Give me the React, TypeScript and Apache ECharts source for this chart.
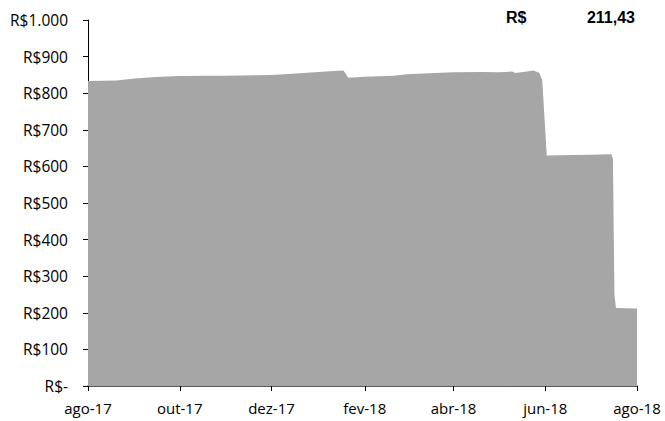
import React, { useEffect, useRef } from "react";
import * as echarts from "echarts";

const dates: string[] = [
  "2017-08-01", "2017-08-20", "2017-09-01", "2017-09-15", "2017-10-01", "2017-10-20",
  "2017-11-01", "2017-11-20", "2017-12-01", "2017-12-15", "2018-01-01", "2018-01-17",
  "2018-01-18", "2018-01-21", "2018-02-01", "2018-02-20", "2018-03-01", "2018-03-20",
  "2018-04-01", "2018-04-20", "2018-05-01", "2018-05-10", "2018-05-12", "2018-05-20",
  "2018-05-24", "2018-05-28", "2018-05-30", "2018-06-02", "2018-06-20", "2018-07-01",
  "2018-07-15", "2018-07-16", "2018-07-17", "2018-07-18", "2018-08-01",
];
const values: number[] = [
  833, 835, 840, 844, 847, 848,
  848, 849, 850, 853, 858, 862,
  861, 842, 845, 848, 852, 855,
  857, 858, 857, 859, 855, 859,
  862, 856, 836, 630, 631, 632,
  633, 620, 250, 213, 211.43,
];
const tickDates: string[] = ["2017-08-01", "2017-10-01", "2017-12-01", "2018-02-01", "2018-04-01", "2018-06-01", "2018-08-01"];
const monthNames: string[] = ["jan", "fev", "mar", "abr", "mai", "jun", "jul", "ago", "set", "out", "nov", "dez"];
const lastValueLabel = "211,43";

const ts = (d: string) => {
  const [y, m, dd] = d.split("-").map(Number);
  return Date.UTC(y, m - 1, dd);
};

export default function App() {
  const ref = useRef<HTMLDivElement>(null);
  useEffect(() => {
    if (!ref.current) return;
    const chart = echarts.init(ref.current, null, { renderer: "svg" });
    const tickTs = tickDates.map(ts);
    const font = "'Open Sans', 'Liberation Sans', sans-serif";
    chart.setOption({
      animation: false,
      grid: { left: 88, right: 28, top: 20, bottom: 35 },
      xAxis: {
        type: "value",
        min: ts("2017-08-01"),
        max: ts("2018-08-01"),
        splitLine: { show: false },
        axisLine: { show: true, lineStyle: { color: "#222", width: 1.5 } },
        axisTick: { show: true, customValues: tickTs, length: 5, inside: false, lineStyle: { color: "#000" } },
        axisLabel: {
          customValues: tickTs,
          color: "#000",
          fontSize: 15,
          fontFamily: font,
          margin: 14,
          formatter: (v: number) => {
            const d = new Date(v);
            return monthNames[d.getUTCMonth()] + "-" + String(d.getUTCFullYear()).slice(2);
          },
        },
      },
      yAxis: {
        type: "value",
        min: 0,
        max: 1000,
        interval: 100,
        splitLine: { show: false },
        axisLine: { show: true, lineStyle: { color: "#000", width: 1 } },
        axisTick: { show: true, length: 5, lineStyle: { color: "#000" } },
        axisLabel: {
          color: "#000",
          fontSize: 15.5,
          fontFamily: font,
          margin: 20,
          formatter: (v: number) => (v === 0 ? "R$-" : "R$" + (v >= 1000 ? "1.000" : String(v))),
        },
      },
      graphic: [
        { type: "text", left: 506, top: 9, style: { text: "R$", font: "bold 16px 'Liberation Sans', Arial, sans-serif", fill: "#000" } },
        { type: "text", right: 30, top: 9, style: { text: lastValueLabel, font: "bold 16px 'Liberation Sans', Arial, sans-serif", fill: "#000" } },
      ],
      series: [
        {
          type: "line",
          data: dates.map((d, i) => [ts(d), values[i]]),
          showSymbol: false,
          lineStyle: { width: 0 },
          areaStyle: { color: "#A6A6A6", opacity: 1 },
          z: 1,
        },
      ],
    });
    return () => chart.dispose();
  }, []);
  return <div ref={ref} style={{ width: 665, height: 421, position: "absolute", left: 0, top: 0 }} />;
}
